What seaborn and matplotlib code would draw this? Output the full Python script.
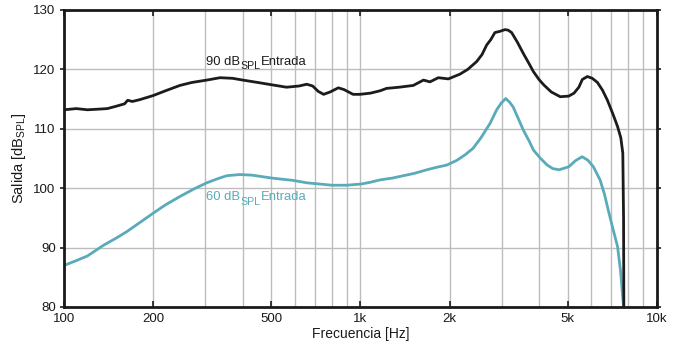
import numpy as np
import pandas as pd
import matplotlib
matplotlib.use("Agg")
import matplotlib.pyplot as plt
import seaborn as sns
from matplotlib.ticker import FixedLocator, FixedFormatter, NullFormatter

# ---- data ----
freq_90 = [100, 110, 120, 130, 140, 150, 160, 164, 170, 180, 200, 220, 246, 270, 303,
           336, 370, 401, 450, 503, 563, 620, 659, 690, 720, 751, 790, 842, 880, 944,
           995, 1080, 1165, 1224, 1350, 1507, 1631, 1715, 1830, 1978, 2165, 2300, 2463,
           2570, 2664, 2750, 2840, 2950, 3073, 3150, 3234, 3380, 3540, 3700, 3833, 4000,
           4149, 4400, 4718, 5037, 5250, 5451, 5600, 5822, 6050, 6297, 6550, 6806, 7100,
           7360, 7550, 7669, 7714, 7730]
spl_90 = [113.2, 113.4, 113.2, 113.3, 113.4, 113.8, 114.2, 114.8, 114.6, 114.9, 115.6,
          116.4, 117.3, 117.8, 118.2, 118.6, 118.5, 118.2, 117.8, 117.4, 117.0, 117.2,
          117.5, 117.2, 116.3, 115.8, 116.2, 116.9, 116.6, 115.8, 115.8, 116.0, 116.4,
          116.8, 117.0, 117.3, 118.2, 117.9, 118.6, 118.4, 119.2, 120.0, 121.3, 122.5,
          124.1, 125.0, 126.2, 126.4, 126.7, 126.6, 126.2, 124.6, 122.7, 121.0, 119.6,
          118.3, 117.4, 116.2, 115.4, 115.5, 116.0, 117.0, 118.3, 118.8, 118.5, 117.8,
          116.5, 114.8, 112.5, 110.4, 108.5, 105.9, 95.0, 80.0]

freq_60 = [100, 110, 120, 136, 150, 163, 180, 200, 220, 246, 275, 303, 330, 354, 392,
           430, 503, 595, 660, 729, 800, 896, 950, 1006, 1080, 1165, 1280, 1394, 1520,
           1675, 1800, 1957, 2115, 2250, 2395, 2550, 2734, 2880, 2980, 3089, 3180, 3271,
           3400, 3540, 3700, 3833, 4050, 4262, 4450, 4674, 5037, 5300, 5590, 5850, 6104,
           6427, 6650, 6850, 7100, 7360, 7531, 7714]
spl_60 = [87.0, 87.8, 88.6, 90.4, 91.6, 92.7, 94.2, 95.8, 97.2, 98.6, 99.9, 100.9,
          101.6, 102.1, 102.3, 102.2, 101.7, 101.3, 100.9, 100.7, 100.5, 100.5, 100.6,
          100.7, 101.0, 101.4, 101.7, 102.1, 102.5, 103.1, 103.5, 103.9, 104.7, 105.6,
          106.7, 108.5, 110.9, 113.2, 114.3, 115.1, 114.5, 113.7, 111.8, 109.8, 108.0,
          106.4, 105.0, 103.9, 103.3, 103.1, 103.6, 104.6, 105.3, 104.7, 103.6, 101.4,
          99.0, 96.3, 93.2, 90.2, 86.2, 80.0]

x_ticks = [100, 200, 500, 1000, 2000, 5000, 10000]
x_tick_labels = ["100", "200", "500", "1k", "2k", "5k", "10k"]
x_minor = [300, 400, 600, 700, 800, 900, 3000, 4000, 6000, 7000, 8000, 9000]
y_ticks = [80, 90, 100, 110, 120, 130]

df = pd.concat([
    pd.DataFrame({"f": freq_90, "spl": spl_90, "serie": "90"}),
    pd.DataFrame({"f": freq_60, "spl": spl_60, "serie": "60"}),
])

sns.set_theme(style="white")
plt.rcParams["font.family"] = ["Liberation Sans", "DejaVu Sans"]
plt.rcParams["mathtext.fontset"] = "custom"
plt.rcParams["mathtext.rm"] = "Liberation Sans"
plt.rcParams["mathtext.it"] = "Liberation Sans"

DPI = 100
fig = plt.figure(figsize=(6.86, 3.47), dpi=DPI)
ax = fig.add_axes([0.0933, 0.1153, 0.8644, 0.8559])

black = "#1c1c1c"
teal = "#5aabb9"

sns.lineplot(data=df, x="f", y="spl", hue="serie", palette={"90": black, "60": teal},
             hue_order=["60", "90"], linewidth=2.0, legend=False, ax=ax, sort=False,
             estimator=None)
for ln in ax.get_lines():
    ln.set_solid_joinstyle("round")

ax.set_xscale("log")
ax.set_xlim(100, 10000)
ax.set_ylim(80, 130)

ax.xaxis.set_major_locator(FixedLocator(x_ticks))
ax.xaxis.set_major_formatter(FixedFormatter(x_tick_labels))
ax.xaxis.set_minor_locator(FixedLocator(x_minor))
ax.xaxis.set_minor_formatter(NullFormatter())
ax.yaxis.set_major_locator(FixedLocator(y_ticks))

ax.grid(True, which="both", axis="x", color="#bdbdbd", linewidth=1.0)
ax.grid(True, which="major", axis="y", color="#bdbdbd", linewidth=1.0)
ax.set_axisbelow(True)

for s in ax.spines.values():
    s.set_color("#1a1a1a")
    s.set_linewidth(2.0)

ax.tick_params(axis="both", which="major", labelsize=9.5, colors="#1a1a1a",
               direction="in", length=4, width=1.2, top=True, right=True,
               bottom=True, left=True, pad=4)
ax.tick_params(axis="y", which="major", direction="out", length=3, pad=3)
ax.tick_params(axis="x", which="minor", length=0)

ax.set_xlabel("Frecuencia [Hz]", fontsize=10, color="#1a1a1a", labelpad=2)
ax.set_ylabel(r"Salida [dB$_\mathregular{SPL}$]", fontsize=10.5, color="#1a1a1a",
              labelpad=4)


def sub_label(x, y, main, sub, tail, color, size=9.4, subsize=7.6, drop=3.2):
    fig.canvas.draw()
    r = fig.canvas.get_renderer()
    t1 = ax.text(x, y, main, fontsize=size, color=color, va="baseline", ha="left")
    w1 = t1.get_window_extent(r).width * 72 / DPI
    t2 = ax.annotate(sub, xy=(x, y), xycoords="data", xytext=(w1 + 0.4, -drop),
                     textcoords="offset points", fontsize=subsize, color=color,
                     va="baseline", ha="left")
    w2 = t2.get_window_extent(r).width * 72 / DPI
    ax.annotate(tail, xy=(x, y), xycoords="data", xytext=(w1 + w2 + 0.8, 0),
                textcoords="offset points", fontsize=size, color=color,
                va="baseline", ha="left")


sub_label(301, 120.75, "90 dB", "SPL", "Entrada", black)
sub_label(301, 98.0, "60 dB", "SPL", "Entrada", teal)

fig.savefig("out.png", dpi=DPI)
